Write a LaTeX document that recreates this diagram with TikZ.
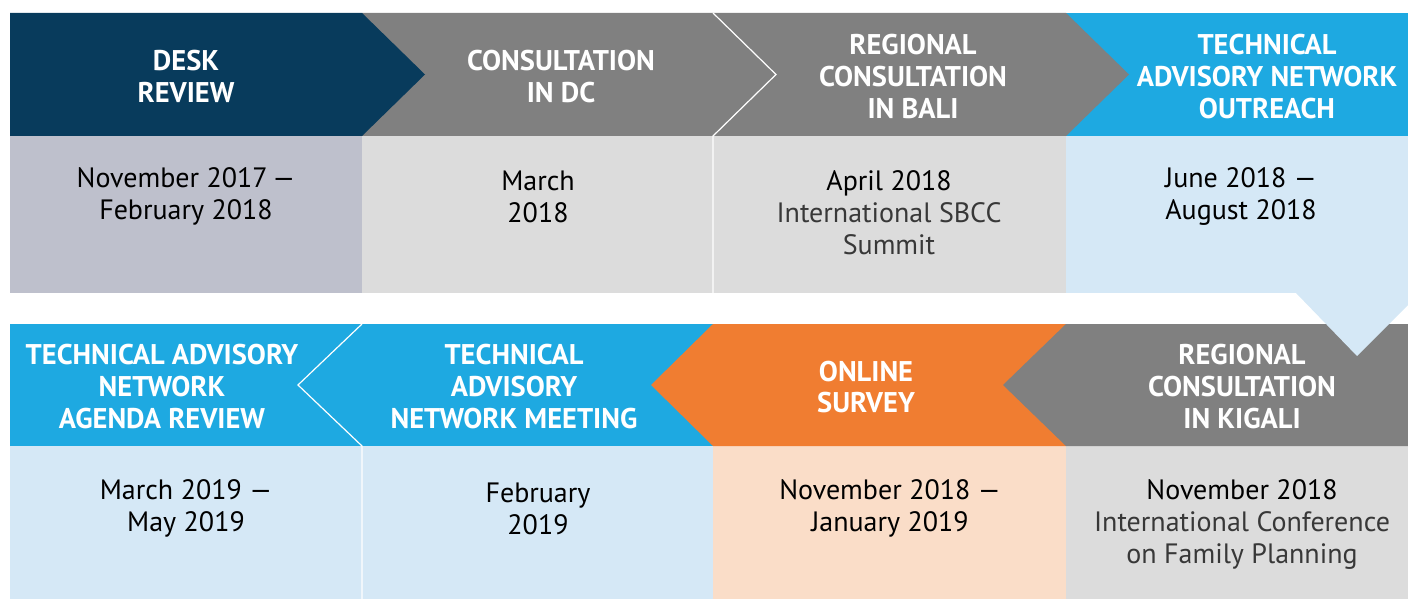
\documentclass[tikz,border=0pt]{standalone}
\usepackage{fontspec}
\setmainfont{PT Sans}
\definecolor{navy}{HTML}{083B5C}
\definecolor{hdrgray}{HTML}{808080}
\definecolor{lav}{HTML}{BEC0CC}
\definecolor{lgray}{HTML}{DCDCDC}
\definecolor{brblue}{HTML}{1EA9E1}
\definecolor{lblue}{HTML}{D5E8F6}
\definecolor{orng}{HTML}{F07D31}
\definecolor{lorng}{HTML}{FADDC8}
\newcommand\lightf{\color{black!78}}
\begin{document}
\begin{tikzpicture}[x=1pt,y=-1pt,
  hdr/.style={text=white,font=\bfseries\fontsize{28.5}{31.6}\selectfont,align=center,inner sep=0pt},
  bodytxt/.style={text=black,font=\fontsize{28}{32}\selectfont,align=center,inner sep=0pt},
  sep/.style={draw=white,line width=1.2pt}]
\useasboundingbox (0,0) rectangle (1408,599);
% top row bodies
\fill[lav] (10,136) rectangle (362,293);
\fill[lgray] (362,136) rectangle (1066,293);
\fill[lblue] (1066,136) rectangle (1408,293);
% top row headers
\fill[brblue] (1066,13) rectangle (1408,136);
\fill[hdrgray] (362,13) -- (1066,13) -- (1129,74.5) -- (1066,136) -- (362,136) -- cycle;
\fill[navy] (10,13) -- (362,13) -- (425,74.5) -- (362,136) -- (10,136) -- cycle;
\draw[sep] (713,13) -- (776,74.5) -- (713,136) -- (713,293);
% bottom row bodies
\fill[lblue] (10,446) rectangle (713,599);
\fill[lorng] (713,446) rectangle (1066,599);
\fill[lgray] (1066,446) rectangle (1408,599);
% bottom row headers
\fill[brblue] (10,324) rectangle (713,446);
\fill[orng] (713,324) -- (1066,324) -- (1066,446) -- (713,446) -- (651,385) -- cycle;
\fill[hdrgray] (1066,324) -- (1408,324) -- (1408,446) -- (1066,446) -- (1003,385) -- cycle;
\draw[sep] (362,324) -- (298,385) -- (362,446) -- (362,599);
% turn arrow
\fill[lblue] (1296,293) -- (1357,356) -- (1408,305) -- (1408,293) -- cycle;
% texts
\node[hdr] (h1) at (186,76.5) {DESK\\REVIEW};
\node[hdr] (h2) at (561,76.5) {CONSULTATION\\IN DC};
\node[hdr] (h3) at (913,76.5) {REGIONAL\\CONSULTATION\\IN BALI};
\node[hdr] (h4) at (1267,76.5) {TECHNICAL\\ADVISORY NETWORK\\OUTREACH};
\node[bodytxt] (b1) at (186,196.5) {November 2017\,—\\February 2018};
\node[bodytxt] (b2) at (538,196.5) {March\\2018};
\node[bodytxt] (b3) at (889,212.5) {April 2018\\{\lightf International SBCC}\\{\lightf Summit}};
\node[bodytxt] (b4) at (1241,196.5) {June 2018 —\\August 2018};
\node[hdr] (h5) at (162,386.5) {TECHNICAL ADVISORY\\NETWORK\\AGENDA REVIEW};
\node[hdr] (h6) at (514,386.5) {TECHNICAL\\ADVISORY\\NETWORK MEETING};
\node[hdr] (h7) at (866,387) {ONLINE\\SURVEY};
\node[hdr] (h8) at (1242,386.5) {REGIONAL\\CONSULTATION\\IN KIGALI};
\node[bodytxt] (b5) at (186,508.5) {March 2019 —\\May 2019};
\node[bodytxt] (b6) at (538,508.5) {February\\2019};
\node[bodytxt] (b7) at (890,508.5) {November 2018 —\\January 2019};
\node[bodytxt] (b8) at (1242,524.5) {November 2018\\{\lightf International Conference}\\{\lightf on Family Planning}};
\end{tikzpicture}
\end{document}
